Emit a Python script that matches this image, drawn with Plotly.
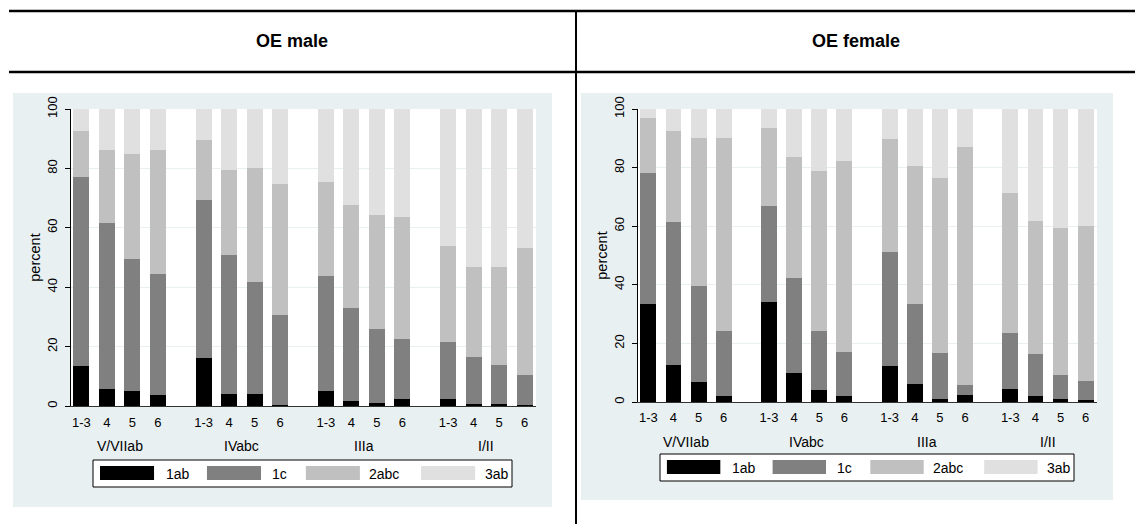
import plotly.graph_objects as go

W, H = 1135, 524
FONT = "Liberation Sans, Arial, sans-serif"

# ---------------- data ----------------
groups = ["V/VIIab", "IVabc", "IIIa", "I/II"]
subcats = ["1-3", "4", "5", "6"]
series = ["1ab", "1c", "2abc", "3ab"]
colors = ["#000000", "#808080", "#C0C0C0", "#E0E0E0"]

# OE male (percent shares, order: group x subcat)
male_1ab  = [13.4, 5.7, 5.0, 3.8,  16.0, 4.0, 4.0, 0.3,  5.0, 1.8, 1.0, 2.2,  2.5, 0.7, 0.8, 0.2]
male_1c   = [63.8, 55.8, 44.4, 40.5, 53.2, 47.0, 37.9, 30.4, 38.7, 31.1, 24.8, 20.3, 19.0, 15.8, 13.1, 10.3]
male_2abc = [15.5, 24.8, 35.6, 41.8, 20.5, 28.3, 38.1, 44.2, 31.7, 34.7, 38.5, 41.1, 32.3, 30.4, 33.0, 42.8]
male_3ab  = [7.3, 13.7, 15.0, 13.9,  10.3, 20.7, 20.0, 25.1, 24.6, 32.4, 35.7, 36.4, 46.2, 53.1, 53.1, 46.7]

# OE female
female_1ab  = [33.5, 12.8, 6.8, 2.1,  34.2, 10.0, 4.2, 2.1,  12.3, 6.2, 0.9, 2.4,  4.3, 2.1, 1.0, 0.7]
female_1c   = [44.8, 48.8, 32.8, 22.1, 32.8, 32.4, 20.0, 15.0, 39.0, 27.2, 15.9, 3.5,  19.3, 14.3, 8.2, 6.5]
female_2abc = [18.8, 30.8, 50.5, 65.9, 26.6, 41.1, 54.7, 65.2, 38.4, 47.0, 59.8, 81.2, 47.9, 45.4, 50.2, 52.7]
female_3ab  = [2.9, 7.6, 9.9, 9.9,    6.4, 16.5, 21.1, 17.7, 10.3, 19.6, 23.4, 12.9, 28.5, 38.2, 40.6, 40.1]

panels = [
    {"title": "OE male", "vals": [male_1ab, male_1c, male_2abc, male_3ab]},
    {"title": "OE female", "vals": [female_1ab, female_1c, female_2abc, female_3ab]},
]

# ---------------- layout constants (pixels) ----------------
GROUP_STEP = 4.8
BAR_W = 0.63
XRANGE = [-0.41, 3 * GROUP_STEP + 3 + 0.45]
xpos = [g * GROUP_STEP + i for g in range(len(groups)) for i in range(len(subcats))]
ticktext = subcats * len(groups)
group_centers = [g * GROUP_STEP + (len(subcats) - 1) / 2 for g in range(len(groups))]

geo = [
    dict(bg=(13, 93, 552, 507), plot=(71, 109, 536, 406), glab_y=446, leg=(93, 460, 512, 487), xstand=4),
    dict(bg=(581, 93, 1113, 500), plot=(638, 109, 1097, 402), glab_y=442, leg=(660, 454, 1074, 481), xstand=3),
]
header_centers = [292, 856]


def px(x):
    return x / W


def py(y):
    return 1 - y / H


fig = go.Figure()
shapes = []
annotations = []

# header lines
shapes.append(dict(type="line", xref="paper", yref="paper", x0=px(9), x1=px(1135), y0=py(11), y1=py(11),
                   line=dict(color="black", width=2.5)))
shapes.append(dict(type="line", xref="paper", yref="paper", x0=px(9), x1=px(1135), y0=py(72), y1=py(72),
                   line=dict(color="black", width=2.5)))
shapes.append(dict(type="line", xref="paper", yref="paper", x0=px(576), x1=px(576), y0=py(11), y1=py(524),
                   line=dict(color="black", width=2)))

for k, (panel, g) in enumerate(zip(panels, geo)):
    xa = "x" if k == 0 else "x2"
    ya = "y" if k == 0 else "y2"
    bx0, by0, bx1, by1 = g["bg"]
    shapes.append(dict(type="rect", xref="paper", yref="paper", layer="below",
                       x0=px(bx0), x1=px(bx1), y0=py(by1), y1=py(by0),
                       fillcolor="#E9F0F2", line=dict(width=0)))
    qx0, qy0, qx1, qy1 = g["plot"]
    shapes.append(dict(type="rect", xref="paper", yref="paper", layer="below",
                       x0=px(qx0), x1=px(qx1), y0=py(qy1), y1=py(qy0),
                       fillcolor="white", line=dict(width=0)))

    for s, name in enumerate(series):
        fig.add_trace(go.Bar(x=xpos, y=panel["vals"][s], name=name, width=BAR_W,
                             marker=dict(color=colors[s], line=dict(width=0)),
                             showlegend=False, xaxis=xa, yaxis=ya, hoverinfo="skip"))

    # group labels
    for gname, gc in zip(groups, group_centers):
        annotations.append(dict(text=gname, x=gc, xref=xa, y=py(g["glab_y"]), yref="paper",
                                showarrow=False, xanchor="center", yanchor="middle",
                                font=dict(family=FONT, size=14, color="black")))

    # header title
    annotations.append(dict(text="<b>%s</b>" % panel["title"], x=px(header_centers[k]), xref="paper",
                            y=py(41), yref="paper", showarrow=False, xanchor="center", yanchor="middle",
                            font=dict(family=FONT, size=18, color="black")))

    # legend (drawn manually to reproduce wide swatches)
    lx0, ly0, lx1, ly1 = g["leg"]
    lw = lx1 - lx0
    shapes.append(dict(type="rect", xref="paper", yref="paper", x0=px(lx0), x1=px(lx1),
                       y0=py(ly1), y1=py(ly0), fillcolor="white", line=dict(color="black", width=1)))
    sw_start = [0.0167, 0.272, 0.508, 0.783]
    tx_start = [0.170, 0.423, 0.655, 0.931]
    sw_w = 0.129
    for s, name in enumerate(series):
        sx0 = lx0 + sw_start[s] * lw
        shapes.append(dict(type="rect", xref="paper", yref="paper",
                           x0=px(sx0), x1=px(sx0 + sw_w * lw), y0=py(ly0 + 20), y1=py(ly0 + 6),
                           fillcolor=colors[s], line=dict(width=0)))
        annotations.append(dict(text=name, x=px(lx0 + tx_start[s] * lw), xref="paper",
                                y=py((ly0 + ly1) / 2), yref="paper", showarrow=False,
                                xanchor="left", yanchor="middle",
                                font=dict(family=FONT, size=14, color="black")))

axis_common_x = dict(range=XRANGE, tickmode="array", tickvals=xpos, ticktext=ticktext,
                     tickfont=dict(family=FONT, size=13, color="black"), ticks="",
                     showline=True, linecolor="#333333", linewidth=1, showgrid=False,
                     zeroline=False, fixedrange=True, automargin=False)
axis_common_y = dict(range=[0, 100], tickmode="array", tickvals=[0, 20, 40, 60, 80, 100],
                     ticktext=["0", "20", "40", "60", "80", "100"], tickangle=-90,
                     tickfont=dict(family=FONT, size=13, color="black"), ticks="outside",
                     ticklen=5, tickcolor="black", showline=True, linecolor="black", linewidth=1,
                     showgrid=True, gridcolor="#E9F0F2", gridwidth=1, zeroline=False,
                     ticklabelstandoff=3,
                     title=dict(text="percent", font=dict(family=FONT, size=14.5, color="black"),
                                standoff=0), fixedrange=True, automargin=False)

layout_axes = {}
for k, g in enumerate(geo):
    qx0, qy0, qx1, qy1 = g["plot"]
    sx = "" if k == 0 else "2"
    layout_axes["xaxis" + sx] = dict(axis_common_x, domain=[px(qx0), px(qx1)], anchor="y" + sx,
                                     ticklabelstandoff=g["xstand"])
    layout_axes["yaxis" + sx] = dict(axis_common_y, domain=[py(qy1), py(qy0)], anchor="x" + sx)

fig.update_layout(
    width=W, height=H, margin=dict(l=0, r=0, t=0, b=0, pad=0, autoexpand=False),
    paper_bgcolor="white", plot_bgcolor="rgba(0,0,0,0)",
    barmode="stack", bargap=0, showlegend=False,
    shapes=shapes, annotations=annotations,
    font=dict(family=FONT, color="black"),
    **layout_axes,
)

fig.write_html("out.html", config={"displayModeBar": False})
